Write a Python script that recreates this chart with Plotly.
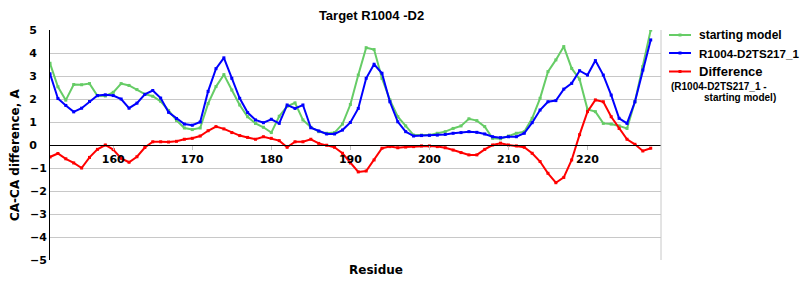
import plotly.graph_objects as go

residues = list(range(152, 229))

starting_model = [
    3.55, 2.53, 1.95, 2.63, 2.62, 2.67, 2.14, 2.13, 2.29, 2.67,
    2.59, 2.41, 2.21, 2.12, 1.9, 1.5, 1.07, 0.74, 0.67, 0.74,
    1.8, 2.54, 3.06, 2.39, 1.74, 1.23, 0.94, 0.77, 0.54, 1.25,
    1.68, 1.83, 1.09, 0.77, 0.58, 0.51, 0.54, 0.91, 1.76, 3.04,
    4.23, 4.15, 2.9, 1.96, 1.23, 0.83, 0.43, 0.43, 0.43, 0.51,
    0.58, 0.72, 0.83, 1.14, 1.06, 0.8, 0.29, 0.27, 0.39, 0.51,
    0.58, 1.16, 2.03, 3.19, 3.7, 4.28, 3.33, 2.86, 1.55, 1.45,
    0.94, 0.91, 0.83, 0.72, 1.88, 3.41, 5.0,
]

model_ts217 = [
    3.1, 2.02, 1.72, 1.44, 1.6, 1.89, 2.15, 2.18, 2.15, 2.0,
    1.6, 1.82, 2.2, 2.37, 2.04, 1.42, 1.15, 0.91, 0.86, 1.0,
    2.33, 3.32, 3.79, 2.9, 2.03, 1.41, 1.09, 0.97, 1.12, 0.94,
    1.74, 1.59, 1.74, 0.75, 0.61, 0.48, 0.48, 0.65, 0.98, 1.59,
    2.9, 3.51, 3.12, 1.88, 1.01, 0.58, 0.39, 0.41, 0.42, 0.43,
    0.46, 0.51, 0.54, 0.58, 0.55, 0.48, 0.36, 0.32, 0.36, 0.36,
    0.51, 0.97, 1.52, 1.88, 1.93, 2.43, 2.68, 3.23, 3.04, 3.67,
    3.04, 2.17, 1.16, 0.94, 1.88, 3.26, 4.57,
]

difference = [
    -0.52, -0.37, -0.6, -0.78, -1.0, -0.54, -0.19, 0.0, -0.2, -0.58,
    -0.75, -0.51, -0.11, 0.14, 0.14, 0.13, 0.16, 0.25, 0.29, 0.39,
    0.62, 0.8, 0.7, 0.54, 0.41, 0.33, 0.25, 0.36, 0.29, 0.19,
    -0.1, 0.14, 0.14, 0.25, 0.07, -0.01, -0.1, -0.36, -0.78, -1.17,
    -1.13, -0.65, -0.14, -0.07, -0.12, -0.09, -0.07, -0.04, -0.04, -0.07,
    -0.12, -0.22, -0.33, -0.43, -0.43, -0.19, 0.0, 0.08, 0.0, -0.04,
    -0.1, -0.36, -0.72, -1.23, -1.64, -1.41, -0.65, 0.45, 1.45, 1.96,
    1.88, 1.23, 0.72, 0.25, 0.03, -0.26, -0.14,
]

x_ticks = [160, 170, 180, 190, 200, 210, 220]
y_ticks = [5, 4, 3, 2, 1, 0, -1, -2, -3, -4, -5]

series_names = ["starting model", "R1004-D2TS217_1", "Difference"]
series_colors = ["#66cc66", "#0000ff", "#ff0000"]
difference_note = ["(R1004-D2TS217_1 -", "starting model)"]

# plot area in pixels (for placing legend / annotations)
L, R, T, B = 50, 661, 30, 260
W, H = R - L, B - T


def px(x):
    return (x - L) / W


def py(y):
    return (B - y) / H


fig = go.Figure()
for vals, name, col in zip([starting_model, model_ts217, difference], series_names, series_colors):
    fig.add_trace(go.Scatter(
        x=residues, y=vals, name=name, mode="lines+markers",
        line=dict(color=col, width=2),
        marker=dict(color=col, size=3, symbol="square"),
        showlegend=False,
    ))


def ylab(v):
    if v < 0:
        return "\u2212" + str(-v)
    return str(v) + "\u2007\u2009"


tick_font = dict(family="DejaVu Sans", size=11, color="black", weight="bold")

fig.update_layout(
    width=800, height=300,
    margin=dict(l=L, r=800 - R, t=T, b=300 - B, pad=0, autoexpand=False),
    paper_bgcolor="white", plot_bgcolor="white",
    title=dict(text="Target R1004 -D2", x=371.5 / 800, xref="container", xanchor="center",
               y=1 - 15 / 300, yref="container", yanchor="middle",
               font=dict(family="Liberation Sans", size=13, color="black", weight="bold")),
    xaxis=dict(range=[152, 229.3], tickvals=x_ticks, ticktext=[str(t) for t in x_ticks],
               showgrid=False, zeroline=False, showline=True, linecolor="black", linewidth=1,
               anchor="free", position=0.5, ticks="outside", ticklen=4, tickcolor="#c0c0c0",
               tickfont=tick_font),
    yaxis=dict(range=[-5, 5], tickvals=y_ticks, ticktext=[ylab(v) for v in y_ticks],
               showgrid=True, gridcolor="#c8c8c8", gridwidth=1, zeroline=False,
               showline=True, linecolor="black", linewidth=1, ticks="",
               tickfont=tick_font),
    showlegend=False,
)

# right frame border
fig.add_shape(type="line", xref="paper", yref="paper", x0=1, x1=1, y0=0, y1=1,
              line=dict(color="#c8c8c8", width=1))

# axis titles
fig.add_annotation(text="CA-CA difference, A", textangle=-90, xref="paper", yref="paper",
                   x=px(15), y=py(155), showarrow=False, xanchor="center", yanchor="middle",
                   font=dict(family="DejaVu Sans", size=12, color="black", weight="bold"))
fig.add_annotation(text="Residue", xref="paper", yref="paper",
                   x=px(375.5), y=py(270), showarrow=False,
                   xanchor="center", yanchor="middle",
                   font=dict(family="DejaVu Sans", size=12, color="black", weight="bold"))

# legend (drawn by hand to match the original layout)
legend_y = [35, 53, 71.5]
legend_size = [12, 11.6, 13]
for name, col, yy, fs in zip(series_names, series_colors, legend_y, legend_size):
    fig.add_shape(type="line", xref="paper", yref="paper",
                  x0=px(669), x1=px(691), y0=py(yy), y1=py(yy),
                  line=dict(color=col, width=2))
    fig.add_shape(type="rect", xref="paper", yref="paper",
                  x0=px(678.5), x1=px(681.5), y0=py(yy - 1.5), y1=py(yy + 1.5),
                  line=dict(width=0), fillcolor=col)
    fig.add_annotation(text=name, xref="paper", yref="paper", x=px(697), y=py(yy),
                       xanchor="left", yanchor="middle", showarrow=False,
                       font=dict(family="Liberation Sans", size=fs, color="black", weight="bold"))
for txt, xx, yy in zip(difference_note, [669, 702], [86.5, 98]):
    fig.add_annotation(text=txt, xref="paper", yref="paper", x=px(xx), y=py(yy),
                       xanchor="left", yanchor="middle", showarrow=False,
                       font=dict(family="Liberation Sans", size=10, color="black", weight="bold"))

fig.write_html("out.html")
